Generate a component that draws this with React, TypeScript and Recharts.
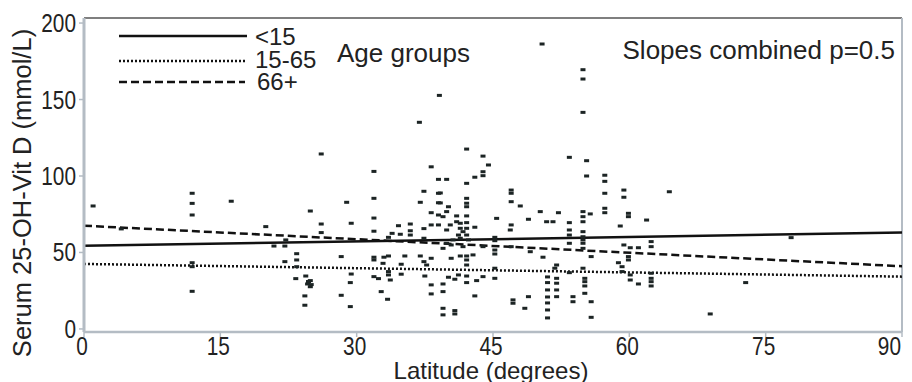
import React from 'react';
import { ComposedChart, Scatter, Line, XAxis, YAxis, ReferenceLine } from 'recharts';

// observations: [latitude, serum 25-OH-Vit D]
const obs: [number, number][] = [
  [1.0, 80.4], [4.1, 65.4], [11.9, 88.7], [11.9, 82.1], [11.9, 74.5], [11.9, 43.3], [11.9, 40.7],
  [11.9, 24.6], [16.2, 83.5], [20.0, 66.9], [20.9, 54.2], [22.1, 54.2], [22.2, 58.2], [22.1, 44],
  [23.4, 49.2], [23.4, 45.1], [23.4, 40.7], [23.3, 32.9], [24.4, 34.6], [24.9, 31.6], [24.6, 29.4],
  [24.9, 27.6], [25.0, 29.0], [24.7, 31.0], [24.3, 21.6], [24.3, 15.5], [26.1, 114.4], [24.9, 77.1],
  [26.1, 68.6], [26.1, 63],
  [31.9, 103], [38.2, 106], [39.0, 97.8], [37.4, 90], [39.0, 88.7], [31.9, 85.4], [28.9, 82.8],
  [37.0, 82.8], [39.0, 82.5], [38.2, 76], [31.9, 72.5], [29.4, 69.1], [39.0, 74.5], [35.9, 68.6],
  [34.6, 67.5], [38.2, 68], [31.9, 63.9], [35.9, 64.2], [35.9, 61.4], [33.9, 62.5], [34.8, 61.9],
  [37.4, 65.6], [37.4, 59.3], [33.5, 59.9], [39.0, 68], [28.3, 47.3], [31.9, 46.9], [31.9, 45.1],
  [33.0, 46.9], [33.5, 47.7], [35.3, 47.7], [37.0, 47.7], [37.4, 44], [37.7, 41.8], [38.2, 46.2],
  [34.9, 42.3], [32.9, 42.9], [33.5, 37.5], [33.5, 35.3], [34.9, 35.8], [29.4, 35.9], [31.9, 34.2],
  [32.4, 32.9], [33.7, 32], [37.5, 34.6], [29.3, 30.3], [38.2, 28.8], [38.2, 22.9], [28.3, 22],
  [32.7, 24.4], [33.4, 19.4], [29.3, 14.6],
  [43.9, 113], [44.5, 107.2], [43.9, 102.8], [43.9, 100.2], [43.0, 99.2], [42.1, 95.2], [39.9, 97.8],
  [39.2, 88.9], [47.0, 90.8], [47.0, 88.7], [47.0, 83.2], [48.0, 80.4], [42.1, 85.4], [42.1, 82.2],
  [42.1, 79.9], [40.1, 79.9], [39.2, 82.4], [39.9, 76.7], [41.0, 73.9], [42.1, 73.9], [39.5, 73.4],
  [41.0, 70.1], [41.4, 69.1], [42.1, 69.5], [40.3, 68], [43.0, 66.5], [39.9, 64.7], [41.4, 65.8],
  [42.1, 65.8], [41.7, 63.6], [41.2, 61.4], [42.1, 61.4], [45.4, 72.3], [50.2, 76.7], [48.9, 71.7],
  [50.9, 70.1], [47.0, 68], [46.9, 64.7], [45.2, 59.9], [45.2, 57.7], [40.6, 58.2], [41.4, 59.3],
  [42.3, 58.2], [39.9, 56], [40.4, 54.9], [41.7, 53.8], [39.5, 52.7], [43.9, 53.8], [45.2, 51.6],
  [47.0, 53.8], [49.1, 50.5], [50.5, 46.9], [45.2, 49], [40.4, 46.2], [41.4, 47.7], [42.1, 47.7],
  [42.8, 48.4], [42.1, 45.1], [42.1, 41.8], [45.2, 39.7], [45.2, 33.1], [41.2, 35.3], [40.1, 33.8],
  [40.8, 32.5], [42.1, 34.6], [42.1, 30.3], [43.9, 34.2], [43.2, 31.6], [39.5, 29.4], [39.5, 24.4],
  [43.0, 21.6], [47.2, 19], [47.2, 16.8], [48.9, 21.1], [48.5, 13.5], [39.5, 13.5], [39.5, 9.2],
  [40.8, 12], [40.8, 9.8],
  [53.4, 112.2], [55.3, 110], [55.3, 100], [57.3, 100.5], [57.3, 96.5], [57.3, 88.7], [57.3, 78.9],
  [57.3, 76], [59.4, 90.8], [59.4, 86.1], [52.2, 76], [54.9, 76.7], [55.7, 75.2], [54.9, 73.4],
  [54.9, 70.1], [51.6, 70.1], [53.4, 69.5], [53.4, 64.7], [53.4, 61.4], [54.9, 63.6], [54.9, 60.3],
  [54.9, 58.2], [54.9, 56], [54.9, 52.7], [53.4, 56], [59.0, 67.3], [59.9, 75.6], [59.9, 73.4],
  [61.9, 71.2], [59.4, 54.9], [60.1, 53.1], [61.0, 53.1], [62.4, 57.1], [62.4, 53.8], [59.9, 47.3],
  [59.9, 45.1], [58.8, 43.3], [59.2, 40.7], [59.2, 37.5], [60.1, 35.3], [60.1, 32], [61.0, 29.4],
  [62.4, 36.4], [62.4, 33.1], [62.4, 30.9], [62.4, 28.1], [55.8, 47.3], [54.9, 39.7], [52.0, 41.8],
  [51.8, 39.7], [53.4, 36.8], [55.1, 33.1], [55.1, 30.9], [55.1, 28.1], [55.1, 23.3], [52.0, 33.1],
  [52.0, 29.9], [52.0, 25.5], [52.0, 21.1], [53.8, 21.1], [53.8, 17.8], [55.8, 17.8], [55.8, 7.6],
  [51.0, 34], [51.0, 30.3], [51.0, 25.5], [51.0, 20.9], [51.0, 17], [51.0, 12.4], [51.0, 7.2],
  [50.4, 186.3], [54.9, 169.5], [54.9, 163.4], [54.9, 141.6], [39.1, 152.7], [36.9, 135.1],
  [42.1, 117.6], [64.4, 89.7], [77.8, 59.7], [72.8, 30.3], [68.9, 9.8],
];

// fitted lines, value at latitude 0 and 90
const fitLat = [0, 90];
const fitUnder15 = [54.4, 63];
const fit15to65 = [42.5, 34.2];
const fit66plus = [67.5, 41];

const xTicks = [0, 15, 30, 45, 60, 75, 90];
const yTicks = [0, 50, 100, 150, 200];

const points = obs.map(([lat, val]) => ({ lat, val }));
const lineData = (vals: number[]) => fitLat.map((lat, i) => ({ lat, val: vals[i] }));

const sans = "'Liberation Sans', Arial, sans-serif";
const axisGray = '#b4bcc4';
const yTop = 203.3;

// narrow-looking tick labels: Liberation Sans squeezed horizontally
const XTick = (props: any) => {
  const { x, y, payload } = props;
  const last = payload.value === 90;
  return (
    <text
      transform={`translate(${last ? 901 : x - 2},${y + 16}) scale(0.8,1)`}
      textAnchor={last ? 'end' : 'middle'}
      fontFamily={sans}
      fontSize={26}
      fill="#222"
    >
      {payload.value}
    </text>
  );
};

const YTick = (props: any) => {
  const { x, y, payload } = props;
  return (
    <text
      transform={`translate(${x - 1},${y + 9}) scale(0.8,1)`}
      textAnchor="end"
      fontFamily={sans}
      fontSize={26}
      fill="#222"
    >
      {payload.value}
    </text>
  );
};

const Dot = (props: any) => {
  const { cx, cy } = props;
  if (cx == null || cy == null) return null;
  return <rect x={cx - 2.5} y={cy - 1.5} width={5} height={3} fill="#1c2424" />;
};

export default function App() {
  return (
    <div style={{ position: 'absolute', left: 0, top: 0, width: 912, height: 382, background: '#fff', overflow: 'hidden' }}>
      <ComposedChart width={912} height={382} margin={{ top: 18, right: 10, left: 0, bottom: 0 }}>
        <XAxis
          type="number"
          dataKey="lat"
          domain={[0, 90]}
          ticks={xTicks}
          height={50}
          interval={0}
          axisLine={{ stroke: axisGray, strokeWidth: 2.5 }}
          tickLine={{ stroke: axisGray, strokeWidth: 1.5 }}
          tickSize={5}
          tick={<XTick />}
          allowDataOverflow
        />
        <YAxis
          type="number"
          dataKey="val"
          domain={[-2, yTop]}
          ticks={yTicks}
          width={84}
          interval={0}
          axisLine={{ stroke: axisGray, strokeWidth: 3 }}
          tickLine={{ stroke: axisGray, strokeWidth: 1.5 }}
          tickSize={5}
          tick={<YTick />}
          allowDataOverflow
        />
        <ReferenceLine y={yTop} stroke="#555" strokeWidth={1.5} />
        <ReferenceLine x={90} stroke={axisGray} strokeWidth={2} />
        <Scatter data={points} dataKey="val" shape={<Dot />} isAnimationActive={false} />
        <Line data={lineData(fitUnder15)} dataKey="val" stroke="#111" strokeWidth={2.5} dot={false} isAnimationActive={false} />
        <Line data={lineData(fit15to65)} dataKey="val" stroke="#111" strokeWidth={2.5} strokeDasharray="2 2" dot={false} isAnimationActive={false} />
        <Line data={lineData(fit66plus)} dataKey="val" stroke="#111" strokeWidth={2.5} strokeDasharray="8 4" dot={false} isAnimationActive={false} />
      </ComposedChart>

      <svg width={912} height={382} style={{ position: 'absolute', left: 0, top: 0, pointerEvents: 'none' }}>
        <line x1={119} y1={36} x2={247} y2={36} stroke="#111" strokeWidth={2.5} />
        <line x1={119} y1={61} x2={245} y2={61} stroke="#111" strokeWidth={2.5} strokeDasharray="2 2" />
        <line x1={119} y1={82} x2={245} y2={82} stroke="#111" strokeWidth={2.5} strokeDasharray="8 4" />
        <g fontFamily={sans} fontSize={24} fill="#222">
          <text x={255} y={45}>&lt;15</text>
          <text x={255} y={68}>15-65</text>
          <text x={257} y={90}>66+</text>
          <text x={337} y={62} fontSize={26}>Age groups</text>
          <text x={895} y={59} fontSize={26} textAnchor="end">Slopes combined p=0.5</text>
          <text x={491} y={379} fontSize={24} textAnchor="middle">Latitude (degrees)</text>
          <text x={0} y={0} fontSize={25.5} textAnchor="middle" transform="translate(31,193) rotate(-90)">
            Serum 25-OH-Vit D (mmol/L)
          </text>
        </g>
      </svg>
    </div>
  );
}
